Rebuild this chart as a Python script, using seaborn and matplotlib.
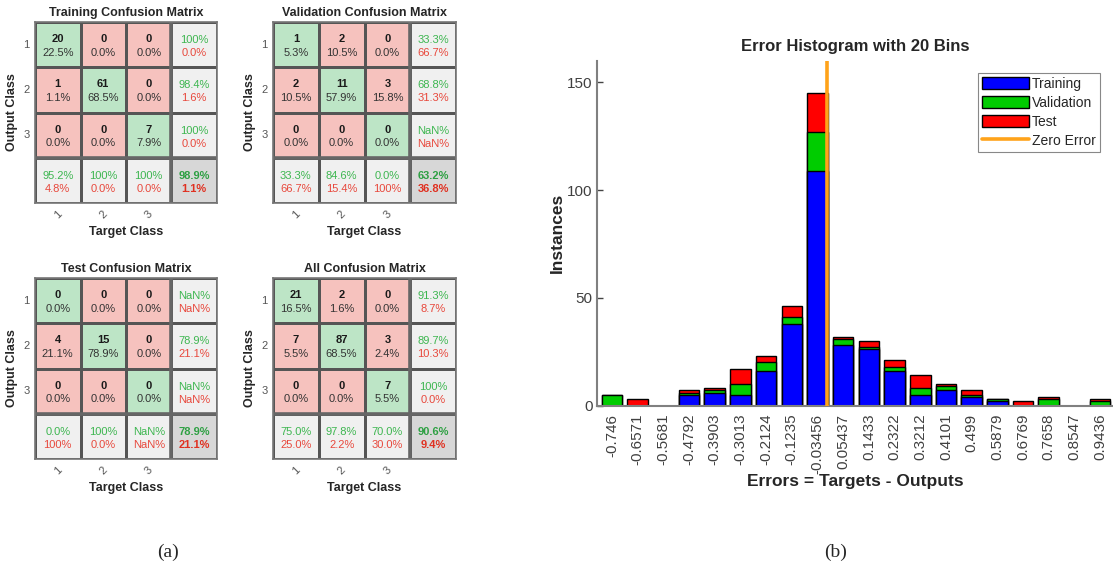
import numpy as np
import pandas as pd
import seaborn as sns
import matplotlib
matplotlib.use("Agg")
import matplotlib.pyplot as plt
from matplotlib.colors import ListedColormap
from matplotlib.patches import Patch
from matplotlib.lines import Line2D

# ---------------- data ----------------
class_labels = ["1", "2", "3"]
train_cm = [[20, 0, 0], [1, 61, 0], [0, 0, 7]]
val_cm = [[1, 2, 0], [2, 11, 3], [0, 0, 0]]
test_cm = [[0, 0, 0], [4, 15, 0], [0, 0, 0]]
all_cm = [[21, 2, 0], [7, 87, 3], [0, 0, 7]]
cm_titles = ["Training Confusion Matrix", "Validation Confusion Matrix",
             "Test Confusion Matrix", "All Confusion Matrix"]

bin_labels = ["-0.746", "-0.6571", "-0.5681", "-0.4792", "-0.3903", "-0.3013",
              "-0.2124", "-0.1235", "-0.03456", "0.05437", "0.1433", "0.2322",
              "0.3212", "0.4101", "0.499", "0.5879", "0.6769", "0.7658",
              "0.8547", "0.9436"]
train_counts = [0, 0, 0, 5, 6, 5, 16, 38, 109, 28, 26, 16, 5, 7, 4, 2, 0, 0, 0, 0]
val_counts = [5, 0, 0, 1, 1, 5, 4, 3, 18, 3, 1, 2, 3, 2, 1, 1, 0, 3, 0, 2]
test_counts = [0, 3, 0, 1, 1, 7, 3, 5, 18, 1, 3, 3, 6, 1, 2, 0, 2, 1, 0, 1]
hist_series = ["Training", "Validation", "Test", "Zero Error"]

# ---------------- style ----------------
sns.set_style("white")
plt.rcParams["font.family"] = ["Liberation Sans", "DejaVu Sans"]

C_RED_CELL = "#F6C2BE"
C_GREEN_CELL = "#BDE5C6"
C_GRAY_CELL = "#F0F0F0"
C_CORNER = "#D7D7D7"
T_GREEN = "#3DB650"
T_RED = "#E8483C"
LINE = "#555555"

fig = plt.figure(figsize=(11.13, 5.72), dpi=100)
W, H = 1113, 572


def px_axes(left, top, right, bottom):
    return fig.add_axes([left / W, (H - bottom) / H, (right - left) / W, (bottom - top) / H])


def fmt(v):
    if np.isnan(v):
        return "NaN%"
    if abs(v - 100) < 1e-9:
        return "100%"
    r = np.floor(v * 10 + 0.5 + 1e-9) / 10
    return f"{r:.1f}%"


def draw_cm(ax, cm, title):
    cm = np.array(cm, dtype=float)
    total = cm.sum()
    codes = np.zeros((4, 4))
    for i in range(4):
        for j in range(4):
            if i == 3 and j == 3:
                codes[i, j] = 3
            elif i == 3 or j == 3:
                codes[i, j] = 2
            elif i == j:
                codes[i, j] = 1
    cmap = ListedColormap([C_RED_CELL, C_GREEN_CELL, C_GRAY_CELL, C_CORNER])
    sns.heatmap(codes, ax=ax, cmap=cmap, vmin=-0.5, vmax=3.5, cbar=False,
                linewidths=1.0, linecolor=LINE, square=False,
                xticklabels=class_labels + [""], yticklabels=class_labels + [""])
    ax.axhline(3, color="#666666", lw=2.6)
    ax.axvline(3, color="#666666", lw=2.6)
    for s in ax.spines.values():
        s.set_visible(True)
        s.set_color("#777777")
        s.set_linewidth(1.2)
    with np.errstate(invalid="ignore", divide="ignore"):
        for i in range(3):
            for j in range(3):
                ax.text(j + 0.5, i + 0.5 - 0.12, f"{int(cm[i, j])}", ha="center", va="center",
                        fontsize=8, fontweight="bold", color="#1a1a1a")
                ax.text(j + 0.5, i + 0.5 + 0.18, fmt(100 * cm[i, j] / total), ha="center",
                        va="center", fontsize=8, color="#333333")
            rs = cm[i].sum()
            p = 100 * cm[i, i] / rs if rs > 0 else np.nan
            ax.text(3.5, i + 0.5 - 0.1, fmt(p), ha="center", va="center", fontsize=8, color=T_GREEN)
            ax.text(3.5, i + 0.5 + 0.19, fmt(100 - p if not np.isnan(p) else np.nan),
                    ha="center", va="center", fontsize=8, color=T_RED)
            cs = cm[:, i].sum()
            q = 100 * cm[i, i] / cs if cs > 0 else np.nan
            ax.text(i + 0.5, 3.5 - 0.1, fmt(q), ha="center", va="center", fontsize=8, color=T_GREEN)
            ax.text(i + 0.5, 3.5 + 0.19, fmt(100 - q if not np.isnan(q) else np.nan),
                    ha="center", va="center", fontsize=8, color=T_RED)
        acc = 100 * np.trace(cm) / total
        ax.text(3.5, 3.5 - 0.1, fmt(acc), ha="center", va="center", fontsize=8,
                fontweight="bold", color="#2ea043")
        ax.text(3.5, 3.5 + 0.19, fmt(100 - acc), ha="center", va="center", fontsize=8,
                fontweight="bold", color="#e03020")
    ax.set_title(title, fontsize=9, fontweight="bold", pad=4)
    ax.set_xlabel("Target Class", fontsize=9, fontweight="bold", labelpad=4)
    ax.set_ylabel("Output Class", fontsize=9, fontweight="bold", labelpad=4)
    ax.tick_params(axis="both", length=0, labelsize=8, labelcolor="#555555", pad=4)
    plt.setp(ax.get_xticklabels(), rotation=45, ha="center")
    plt.setp(ax.get_yticklabels(), rotation=0)


boxes = [(35, 22, 217, 203), (273, 22, 456, 203), (35, 278, 217, 459), (273, 278, 456, 459)]
for cm, title, b in zip([train_cm, val_cm, test_cm, all_cm], cm_titles, boxes):
    draw_cm(px_axes(*b), cm, title)

# ---------------- histogram ----------------
axh = px_axes(597, 60.7, 1113, 405.5)
tr = np.array(train_counts)
tv = tr + np.array(val_counts)
tot = tv + np.array(test_counts)
sns.barplot(x=bin_labels, y=tot, order=bin_labels, color="#FF0000", saturation=1,
            edgecolor="black", linewidth=1.0, width=0.8, ax=axh)
sns.barplot(x=bin_labels, y=tv, order=bin_labels, color="#00CC00", saturation=1,
            edgecolor="black", linewidth=1.0, width=0.8, ax=axh)
sns.barplot(x=bin_labels, y=tr, order=bin_labels, color="#0000FF", saturation=1,
            edgecolor="black", linewidth=1.0, width=0.8, ax=axh)

centers = np.array([float(s) for s in bin_labels])
step = (centers[-1] - centers[0]) / (len(centers) - 1)
zero_pos = -centers[0] / step
axh.axvline(zero_pos, color="#FFA31A", lw=2.6, zorder=5)

axh.set_xlim(-0.58, 19.5)
axh.set_ylim(0, 160)
axh.set_yticks([0, 50, 100, 150])
axh.tick_params(axis="y", left=True, direction="in", length=4, width=1, color="#444444",
                labelsize=11, labelcolor="#404040", pad=3)
axh.tick_params(axis="x", length=0, labelsize=11, labelcolor="#404040", pad=6)
plt.setp(axh.get_xticklabels(), rotation=90, va="top")
for side in ["top", "right"]:
    axh.spines[side].set_visible(False)
for side in ["left", "bottom"]:
    axh.spines[side].set_color("#808080")
    axh.spines[side].set_linewidth(1.5)

axh.set_title("Error Histogram with 20 Bins", fontsize=12, fontweight="bold", pad=7)
axh.set_xlabel("Errors = Targets - Outputs", fontsize=12.5, fontweight="bold")
axh.xaxis.set_label_coords(0.5, -0.2)
axh.set_ylabel("Instances", fontsize=12.5, fontweight="bold")
axh.yaxis.set_label_coords(-0.063, 0.5)

handles = [Patch(facecolor="#0000FF", edgecolor="black", lw=1),
           Patch(facecolor="#00CC00", edgecolor="black", lw=1),
           Patch(facecolor="#FF0000", edgecolor="black", lw=1),
           Line2D([0], [0], color="#FFA31A", lw=2.6)]
leg = axh.legend(handles, hist_series, loc="upper right", bbox_to_anchor=(0.975, 0.965),
                 fontsize=10, frameon=True, fancybox=False, framealpha=1,
                 handlelength=3.4, handleheight=0.95, handletextpad=0.2,
                 labelspacing=0.35, borderpad=0.3, borderaxespad=0.0)
leg.get_frame().set_edgecolor("#888888")
leg.get_frame().set_linewidth(0.8)

fig.text(168 / W, (H - 552) / H, "(a)", ha="center", va="center", fontsize=14,
         family=["Liberation Serif", "DejaVu Serif"])
fig.text(836 / W, (H - 552) / H, "(b)", ha="center", va="center", fontsize=14,
         family=["Liberation Serif", "DejaVu Serif"])

fig.savefig("out.png", dpi=100)
